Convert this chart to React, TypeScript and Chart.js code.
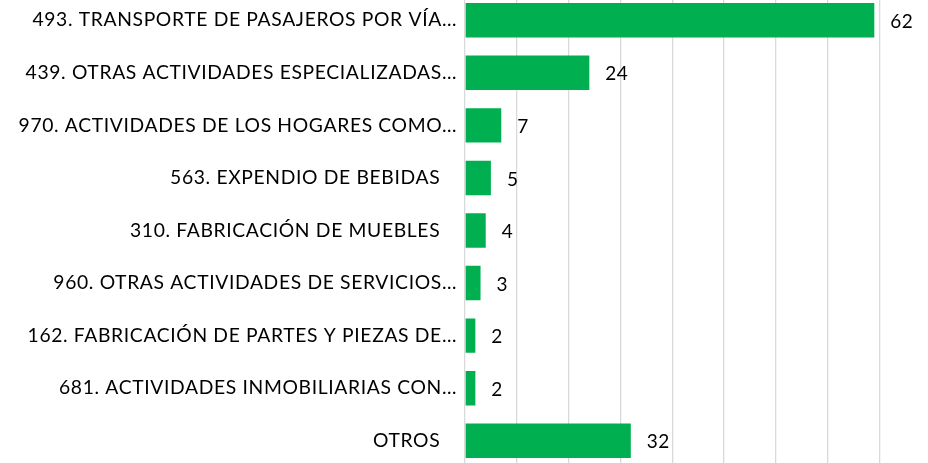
import React, { useEffect, useRef } from "react";
import { Chart, registerables } from "chart.js";

Chart.register(...registerables);

const categories = [
  "493. TRANSPORTE DE PASAJEROS POR VÍA…",
  "439. OTRAS ACTIVIDADES ESPECIALIZADAS…",
  "970. ACTIVIDADES DE LOS HOGARES COMO…",
  "563. EXPENDIO DE BEBIDAS",
  "310. FABRICACIÓN DE MUEBLES",
  "960. OTRAS ACTIVIDADES DE SERVICIOS…",
  "162. FABRICACIÓN DE PARTES Y PIEZAS DE…",
  "681. ACTIVIDADES INMOBILIARIAS CON…",
  "OTROS",
];

// bar lengths as drawn in the picture
const barValues = [79, 24, 7, 5, 4, 3, 2, 2, 32];
// value labels printed next to the bars
const valueLabels = ["62", "24", "7", "5", "4", "3", "2", "2", "32"];

const axisMin = 0;
const axisMax = 80;
const axisStep = 10;

const FONT = "Lato, 'Open Sans', sans-serif";

export default function App() {
  const ref = useRef<HTMLCanvasElement | null>(null);

  useEffect(() => {
    document.body.style.margin = "0";
    document.body.style.overflow = "hidden";
    if (!ref.current) return;

    const spacingPlugin = {
      id: "letterSpacing",
      beforeDraw(chart: any) {
        chart.ctx.letterSpacing = "0.65px";
      },
    };

    const valueLabelPlugin = {
      id: "valueLabels",
      afterDatasetsDraw(chart: any) {
        const ctx = chart.ctx;
        const meta = chart.getDatasetMeta(0);
        ctx.save();
        ctx.letterSpacing = "0.5px";
        ctx.font = `19px ${FONT}`;
        ctx.fillStyle = "#000000";
        ctx.textAlign = "left";
        ctx.textBaseline = "middle";
        meta.data.forEach((el: any, i: number) => {
          ctx.fillText(valueLabels[i], el.x + 16, el.y + 1.5);
        });
        ctx.restore();
      },
    };

    const chart = new Chart(ref.current, {
      type: "bar",
      data: {
        labels: categories,
        datasets: [
          {
            data: barValues,
            backgroundColor: "#00B050",
            borderWidth: 0,
            categoryPercentage: 1,
            barPercentage: 0.655,
          },
        ],
      },
      options: {
        indexAxis: "y",
        animation: false,
        responsive: true,
        maintainAspectRatio: false,
        layout: { padding: { left: 0, right: 48.5, top: 0, bottom: 0 } },
        plugins: {
          legend: { display: false },
          tooltip: { enabled: false },
        },
        scales: {
          x: {
            min: axisMin,
            max: axisMax,
            position: "bottom",
            ticks: { display: false, stepSize: axisStep },
            grid: { color: "#d9d9d9", lineWidth: 1.3, drawTicks: false },
            border: { display: false },
          },
          y: {
            grid: { display: false, drawTicks: false },
            border: { display: false },
            afterFit: (scale: any) => {
              scale.width = 465;
              scale.paddingTop = 0;
              scale.paddingBottom = 0;
            },
            ticks: {
              padding: 8,
              color: "#000000",
              font: { family: FONT, size: 19.3 },
              callback: function (this: any, value: any) {
                const lbl = String(this.getLabelForValue(value));
                return lbl.endsWith("…") ? lbl : lbl + "   ";
              },
            },
          },
        },
      },
      plugins: [spacingPlugin, valueLabelPlugin],
    });

    return () => chart.destroy();
  }, []);

  return (
    <div style={{ position: "fixed", left: 0, top: 0, width: 928, height: 463, overflow: "hidden", background: "#fff" }}>
      <div style={{ position: "absolute", left: 0, top: -6, width: 928, height: 473 }}>
        <canvas ref={ref} />
      </div>
    </div>
  );
}
